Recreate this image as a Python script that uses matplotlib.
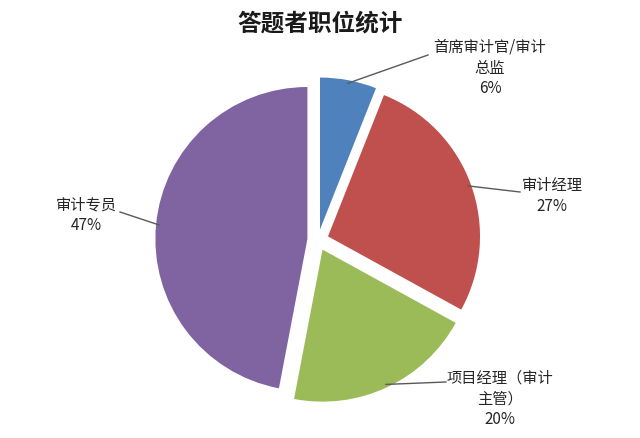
import numpy as np
import matplotlib
matplotlib.use("Agg")
from matplotlib import pyplot as plt

plt.rcParams["font.family"] = ["Noto Sans CJK SC", "DejaVu Sans"]

# data
categories = ["首席审计官/审计\n总监", "审计经理", "项目经理（审计\n主管）", "审计专员"]
shares = [6, 27, 20, 47]
colors = ["#4F81BD", "#C0504D", "#9BBB59", "#8064A2"]

W, H = 640, 438
CX, CY = 318, 240      # pie centre in pixels (from top-left)
R = 152                # radius in pixels

fig = plt.figure(figsize=(W / 100, H / 100), dpi=100)
ax = fig.add_axes([0, 0, 1, 1])


def px(x, y):
    # pixel position -> data coordinates (unit = radius)
    return (x - CX) / R, (CY - y) / R


wedges, _ = ax.pie(
    shares,
    colors=colors,
    startangle=90,
    counterclock=False,
    explode=[0.07] * 4,
    radius=1.0,
    wedgeprops=dict(linewidth=0),
)
ax.set_xlim(-CX / R, (W - CX) / R)
ax.set_ylim(-(H - CY) / R, CY / R)
ax.set_aspect("auto")
ax.axis("off")

# label positions (text centre, pixels) and where the leader line ends
label_pos = [(490, 68), (552, 196), (500, 399), (86, 215)]
line_end = [(428, 55), (520, 192), (446, 382), (120, 212)]

for w, cat, s, (tx, ty), (lx, ly) in zip(wedges, categories, shares, label_pos, line_end):
    ang = np.deg2rad((w.theta1 + w.theta2) / 2)
    cx, cy = w.center
    start = (cx + 0.98 * w.r * np.cos(ang), cy + 0.98 * w.r * np.sin(ang))
    ax.plot([start[0], px(lx, ly)[0]], [start[1], px(lx, ly)[1]],
            color="#595959", linewidth=1.0)
    ax.text(*px(tx, ty), f"{cat}\n{s}%", ha="center", va="center",
            fontsize=11, color="#262626", linespacing=1.3)

fig.text(0.5, 1 - 23 / H, "答题者职位统计", ha="center", va="center",
         fontsize=17, fontweight="bold", color="#1a1a1a")

fig.savefig("out.png", dpi=100)
